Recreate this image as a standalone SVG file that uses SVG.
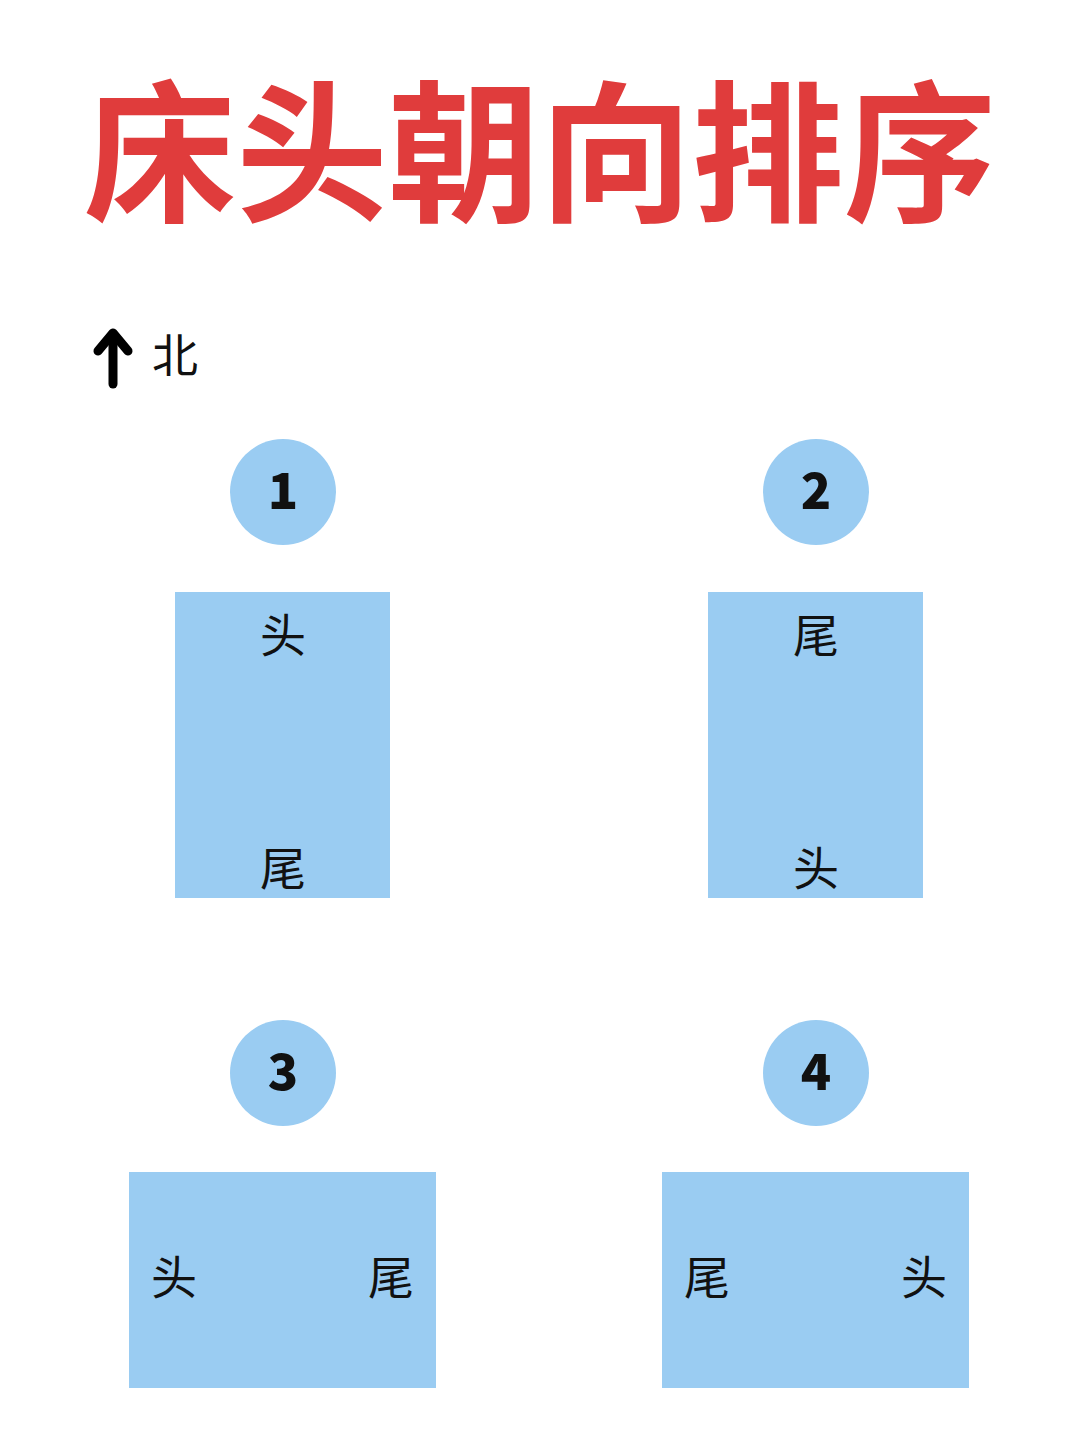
<svg xmlns="http://www.w3.org/2000/svg" width="1080" height="1443" viewBox="0 0 1080 1443">
<style>
.bg{fill:#ffffff}
.title{font-family:"Noto Sans CJK SC","Noto Sans",sans-serif;font-weight:700;font-size:152px;fill:#E03C3C;text-anchor:middle}
.lbl{font-family:"Noto Sans CJK SC","Noto Sans",sans-serif;font-weight:400;font-size:46px;fill:#111111;text-anchor:middle}
.num{font-family:"Noto Sans CJK SC","Noto Sans",sans-serif;font-weight:900;font-size:50px;fill:#111111;text-anchor:middle}
.circ{fill:#9ACCF2}
.bed{fill:#9ACCF2}
.arrow{stroke:#000000;stroke-width:9;fill:none;stroke-linecap:round;stroke-linejoin:round}
</style>
<rect class="bg" x="0" y="0" width="1080" height="1443"/>
<g id="title"><text class="title" x="540" y="210">床头朝向排序</text></g>
<g id="north">
<path class="arrow" d="M113,384 L113,338"/>
<path class="arrow" d="M98,351 L113,333 L128,351"/>
<text class="lbl" x="175" y="372">北</text>
</g>
<g id="bed1">
<circle class="circ" cx="283" cy="492" r="53"/>
<text class="num" x="283" y="509">1</text>
<rect class="bed" x="175" y="592" width="215" height="306"/>
<text class="lbl" x="283" y="652">头</text>
<text class="lbl" x="283" y="885">尾</text>
</g>
<g id="bed2">
<circle class="circ" cx="816" cy="492" r="53"/>
<text class="num" x="816" y="509">2</text>
<rect class="bed" x="708" y="592" width="215" height="306"/>
<text class="lbl" x="816" y="652">尾</text>
<text class="lbl" x="816" y="885">头</text>
</g>
<g id="bed3">
<circle class="circ" cx="283" cy="1073" r="53"/>
<text class="num" x="283" y="1090">3</text>
<rect class="bed" x="129" y="1172" width="307" height="216"/>
<text class="lbl" x="174" y="1294">头</text>
<text class="lbl" x="391" y="1294">尾</text>
</g>
<g id="bed4">
<circle class="circ" cx="816" cy="1073" r="53"/>
<text class="num" x="816" y="1090">4</text>
<rect class="bed" x="662" y="1172" width="307" height="216"/>
<text class="lbl" x="707" y="1294">尾</text>
<text class="lbl" x="924" y="1294">头</text>
</g>
<g id="connectors"></g>
</svg>
